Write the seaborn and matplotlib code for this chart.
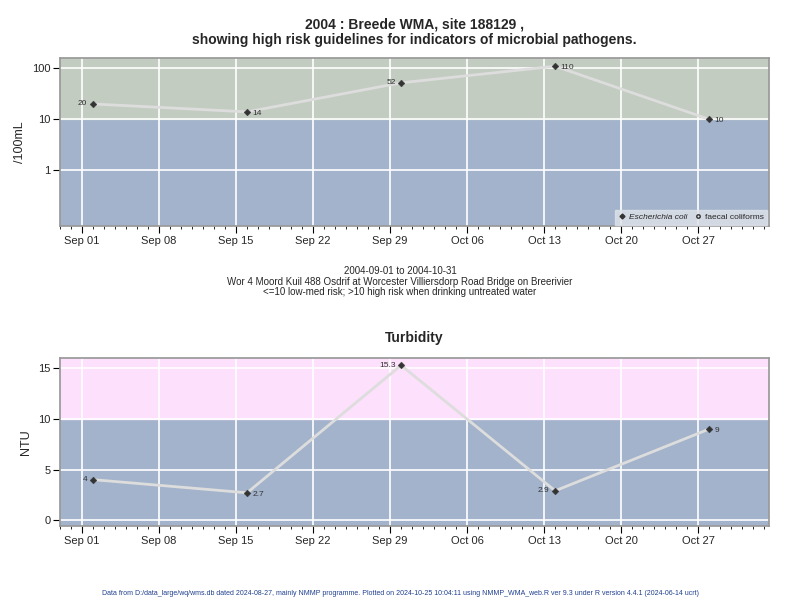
import matplotlib
matplotlib.use("Agg")
import matplotlib.pyplot as plt
import matplotlib.dates as mdates
from matplotlib.lines import Line2D
import seaborn as sns
import pandas as pd

sns.set_theme(style="white")
plt.rcParams['font.family'] = ['Liberation Sans', 'DejaVu Sans']

ecoli_dates = ["2004-09-02", "2004-09-16", "2004-09-30", "2004-10-14", "2004-10-28"]
ecoli_values = [20, 14, 52, 110, 10]
ecoli_labels = ["20", "14", "52", "110", "10"]
turb_dates = ["2004-09-02", "2004-09-16", "2004-09-30", "2004-10-14", "2004-10-28"]
turb_values = [4, 2.7, 15.3, 2.9, 9]
turb_labels = ["4", "2.7", "15.3", "2.9", "9"]
label_side = ["left", "right", "left", "right", "right"]
turb_side = ["left", "right", "left", "left", "right"]

df_e = pd.DataFrame({"date": pd.to_datetime(ecoli_dates), "value": ecoli_values})
df_t = pd.DataFrame({"date": pd.to_datetime(turb_dates), "value": turb_values})

fig = plt.figure(figsize=(8, 6), dpi=100)
ax1 = fig.add_axes([0.075, 0.623, 0.886, 0.28])
ax2 = fig.add_axes([0.075, 0.123, 0.886, 0.28])

xmin, xmax = pd.Timestamp("2004-08-30"), pd.Timestamp("2004-11-02 10:00")
blue = "#a2b3cb"

def style(ax):
    ax.set_xlim(xmin, xmax)
    ticks = pd.date_range("2004-09-01", "2004-10-27", freq="7D")
    ax.set_xticks(ticks)
    ax.set_xticklabels([t.strftime("%b %d") for t in ticks], fontsize=8)
    ax.xaxis.set_minor_locator(mdates.DayLocator())
    ax.tick_params(axis="x", which="major", length=5, width=0.8, direction="out", bottom=True, color="black", pad=2)
    ax.tick_params(axis="x", which="minor", length=2.5, width=0.6, direction="out", bottom=True, color="black")
    ax.tick_params(axis="y", length=5, width=0.8, direction="out", left=True, color="black", labelsize=8, pad=2)
    for s in ax.spines.values():
        s.set_color("#999999")
    for t in ticks:
        ax.axvline(t, color="white", lw=1.2, zorder=1)

# Top panel
style(ax1)
ax1.set_yscale("log")
ax1.set_ylim(0.08, 158)
ax1.axhspan(0.08, 10, color=blue, zorder=0)
ax1.axhspan(10, 158, color="#c2ccc1", zorder=0)
for y in [1, 10, 100]:
    ax1.axhline(y, color="white", lw=1.2, zorder=1)
ax1.set_yticks([1, 10, 100])
ax1.set_yticklabels(["1", "10", "100"])
ax1.yaxis.set_minor_locator(matplotlib.ticker.NullLocator())
sns.lineplot(data=df_e, x="date", y="value", ax=ax1, color="#dddddd", lw=2, zorder=2)
sns.scatterplot(data=df_e, x="date", y="value", ax=ax1, color="#333333", marker="D", s=12, zorder=3, edgecolor="#333333")
for d, v, l, s in zip(df_e["date"], ecoli_values, ecoli_labels, label_side):
    off = -4 if s == "left" else 4
    ax1.annotate(l, (d, v), xytext=(off, -1 if s == "right" else 0), textcoords="offset points",
                 ha="right" if s == "left" else "left", va="center", fontsize=6, color="#333333")
ax1.set_xlabel("")
ax1.set_ylabel("/100mL", fontsize=9)
handles = [Line2D([], [], marker="D", color="#333333", ls="", ms=2.5),
           Line2D([], [], marker="o", mfc="none", mec="#333333", ls="", ms=2.5)]
leg = ax1.legend(handles, ["Escherichia coli", "faecal coliforms"], loc="lower right", ncol=2,
                 fontsize=6, frameon=True, fancybox=False, borderaxespad=0.2, handletextpad=0.3,
                 columnspacing=0.8, handlelength=1)
leg.get_frame().set_facecolor("#dfe3ea")
leg.get_frame().set_edgecolor("#dfe3ea")
leg.get_texts()[0].set_style("italic")
ax1.set_title("2004 : Breede WMA, site 188129 ,\nshowing high risk guidelines for indicators of microbial pathogens.",
              fontsize=10, fontweight="bold", pad=10)

fig.text(0.5, 0.557, "2004-09-01 to 2004-10-31\nWor 4 Moord Kuil 488 Osdrif at Worcester Villiersdorp Road Bridge on Breerivier\n<=10 low-med risk; >10 high risk when drinking untreated water",
         ha="center", va="top", fontsize=7, linespacing=1.1)

# Bottom panel
style(ax2)
ax2.set_ylim(-0.6, 16)
ax2.axhspan(-0.6, 10, color=blue, zorder=0)
ax2.axhspan(10, 16, color="#fde0fb", zorder=0)
for y in [0, 5, 10, 15]:
    ax2.axhline(y, color="white", lw=1.2, zorder=1)
ax2.set_yticks([0, 5, 10, 15])
sns.lineplot(data=df_t, x="date", y="value", ax=ax2, color="#dddddd", lw=2, zorder=2)
sns.scatterplot(data=df_t, x="date", y="value", ax=ax2, color="#333333", marker="D", s=12, zorder=3, edgecolor="#333333")
for d, v, l, s in zip(df_t["date"], turb_values, turb_labels, turb_side):
    off = -4 if s == "left" else 4
    ax2.annotate(l, (d, v), xytext=(off, -1 if s == "right" else 0), textcoords="offset points",
                 ha="right" if s == "left" else "left", va="center", fontsize=6, color="#333333")
ax2.set_xlabel("")
ax2.set_ylabel("NTU", fontsize=9)
ax2.set_title("Turbidity", fontsize=10, fontweight="bold", pad=12)

fig.text(0.5, 0.005, "Data from D:/data_large/wq/wms.db dated 2024-08-27, mainly NMMP programme. Plotted on 2024-10-25 10:04:11 using NMMP_WMA_web.R ver 9.3 under R version 4.4.1 (2024-06-14 ucrt)",
         ha="center", va="bottom", fontsize=5, color="#1f3f8f")

fig.savefig("out.png", dpi=100)
